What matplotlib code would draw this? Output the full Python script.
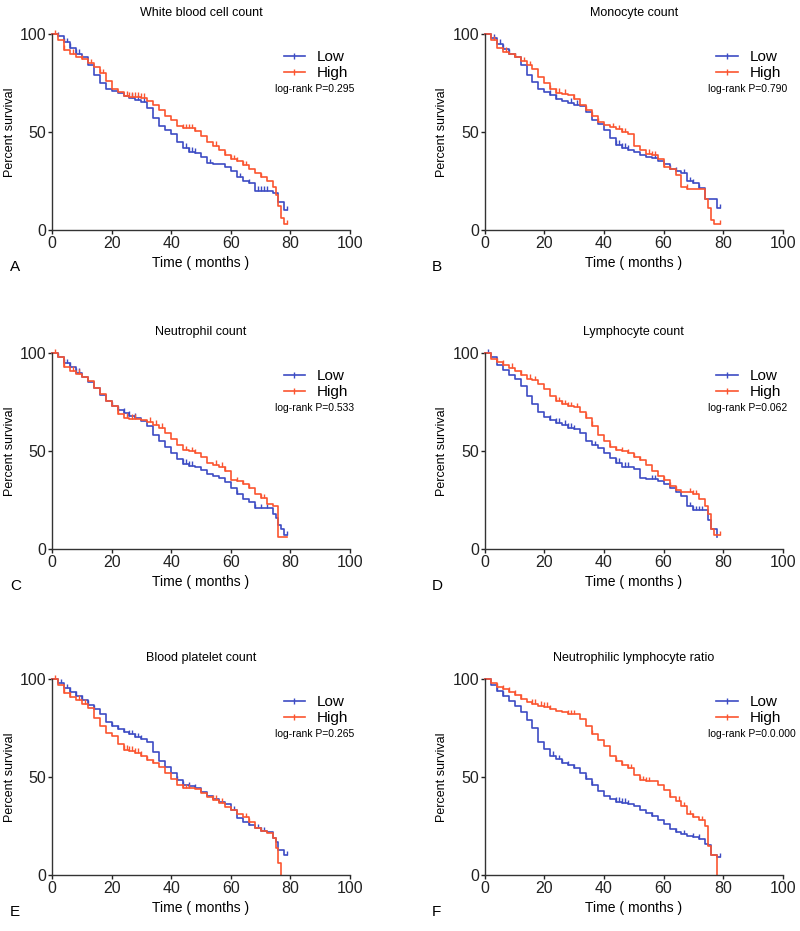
import numpy as np
import matplotlib
matplotlib.use("Agg")
import matplotlib.pyplot as plt
from matplotlib.lines import Line2D

plt.rcParams['font.family'] = ['Liberation Sans', 'DejaVu Sans']

# time grid (months) shared by all curves
months = [0, 2, 4, 6, 8, 10, 12, 14, 16, 18, 20, 22, 24, 26, 28, 30, 32, 34, 36, 38,
          40, 42, 44, 46, 48, 50, 52, 54, 56, 58, 60, 62, 64, 66, 68, 70, 72, 74,
          75, 76, 77, 78]

titles = ["White blood cell count", "Monocyte count", "Neutrophil count",
          "Lymphocyte count", "Blood platelet count", "Neutrophilic lymphocyte ratio"]
panel_letters = ["A", "B", "C", "D", "E", "F"]
pvalues = ["0.295", "0.790", "0.533", "0.062", "0.265", "0.0.000"]

# survival (%) for the Low group
low_a = [100, 99, 96, 93, 90, 88, 84, 79, 75, 72, 71, 70, 68.5, 67.5, 66.5, 65.5, 62, 57, 53, 51,
         49, 45, 42, 40, 39.5, 37, 34, 33.5, 33.5, 32, 30, 27, 25, 24, 20, 20, 20, 19, 19, 14.5, 14.5, 10]
low_b = [100, 98, 95, 92.5, 90, 88, 84, 79, 75.5, 72, 70.5, 69, 67, 66, 65, 64, 63, 60, 56, 54,
         51, 47, 43.5, 42, 41, 40, 38, 37, 36.5, 35, 33.5, 31, 30, 29, 25, 24, 21.5, 16, 16, 16, 16, 11]
low_c = [100, 98, 95, 93, 90, 88, 85, 82, 78.5, 75.5, 73, 71, 69.5, 68, 67, 65.5, 63, 58, 55, 52,
         49, 46, 43.5, 42.5, 42, 40.5, 38.5, 37, 36, 34, 31, 28, 25.5, 24, 21, 21, 21, 18, 16, 12, 10, 7]
low_d = [100, 98, 94, 91.5, 89, 86.5, 83, 78, 74, 70, 67.5, 66, 64.5, 63.5, 62, 61, 59, 55, 53, 51.5,
         49, 46.5, 44, 42, 42, 41, 36, 35.5, 35.5, 34.5, 33, 31, 29, 27, 22, 20, 20, 20, 15, 10, 10, 6]
low_e = [100, 98, 95.5, 93.5, 91.5, 89.5, 87, 84.5, 82, 78, 76, 74.5, 73, 72, 70.5, 69.5, 68, 63, 58, 55,
         52, 48.5, 46, 45.5, 44.5, 42.5, 40.5, 39, 37.5, 36, 33, 29, 27, 25.5, 24, 22.5, 22, 19, 17, 13, 13, 10]
low_f = [100, 97, 94, 91.5, 89, 86.5, 83, 79, 75, 68, 64.5, 61, 59, 57, 56, 54.5, 52, 49, 46, 43,
         40.5, 39, 37.5, 37, 36, 35, 33, 31.5, 30, 28, 26, 23.5, 22, 21, 20, 19.5, 18.5, 16, 15.5, 10, 10, 9]

# survival (%) for the High group
high_a = [100, 97, 92, 90, 88, 87, 85, 83, 80, 76, 72, 70.5, 68.5, 68, 68, 67.5, 66, 64, 61, 58,
          56, 53, 52, 52, 50.5, 48, 45, 43, 41, 38, 36, 35, 33, 31, 29, 27, 25, 22, 18, 12, 6, 3]
high_b = [100, 97, 93, 91, 90, 88, 86, 84, 82, 78, 75, 72, 70, 69.5, 69, 67, 64, 61, 58, 55,
          53.5, 52.5, 51.5, 50, 49, 43, 41, 39, 38, 36, 32, 31, 28, 22, 21, 21, 21, 16, 11, 5, 3, 3]
high_c = [100, 98, 93, 91, 89.5, 88, 85.5, 82, 79, 75.5, 73, 69, 67, 66.5, 66.5, 66, 65, 63.5, 62, 59,
          56, 53, 50.5, 50, 49, 47, 44, 43, 42, 40, 35, 34.5, 33, 31, 28, 26, 23, 22, 22, 6, 6, 6]
high_d = [100, 97, 95.5, 94, 92.5, 91, 89, 87, 86, 84, 81.5, 78, 75.5, 74, 73, 72.5, 70, 67, 63, 58,
          55, 52, 50.5, 50, 49, 47, 45.5, 43, 40, 37.5, 35, 32, 30, 29, 29, 28, 25.5, 22, 18, 10, 7, 7]
high_e = [100, 97, 93, 91, 89.5, 87.5, 85, 80, 76, 72.5, 71, 67, 64, 63.5, 62.5, 61, 58.5, 57, 55, 52,
          49, 46, 44.5, 44.5, 44, 42, 40, 38.5, 37, 34.5, 33, 31, 29.5, 27, 24, 22.5, 21.5, 19, 14, 6, 0, 0]
high_f = [100, 98, 96, 95, 93.5, 92, 90, 88.5, 87.5, 86.5, 86, 84.5, 83.5, 83, 82, 82, 79.5, 76, 72, 69,
          66, 61, 58, 56, 54.5, 51, 48.5, 48, 48, 46, 43.5, 40, 38, 35, 31, 29.5, 28, 25, 15, 10, 10, 0]

# last follow-up time of each curve
low_end = [79, 79, 79, 78, 79, 79]
high_end = [79, 79, 79, 79, 77, 78]

# censored observations (months)
low_cens = [
    [2, 4, 5, 6, 8, 9, 27, 29, 31, 45, 46, 47, 48, 53, 63, 66, 69, 70, 71, 72, 79],
    [3, 5, 6, 8, 10, 22, 24, 29, 31, 44, 45, 46, 47, 48, 57, 62, 64, 67, 69, 70, 72, 79],
    [2, 4, 5, 6, 8, 9, 20, 22, 24, 26, 28, 44, 45, 46, 47, 62, 68, 70, 72, 79],
    [1, 22, 24, 25, 27, 28, 29, 30, 37, 44, 45, 47, 48, 56, 57, 69, 70, 71, 72, 73],
    [3, 5, 6, 8, 10, 12, 14, 20, 22, 24, 26, 27, 28, 29, 30, 42, 44, 46, 48, 61, 66, 69, 70, 71, 79],
    [4, 6, 23, 25, 26, 28, 30, 34, 36, 44, 45, 46, 47, 48, 56, 64, 67, 70, 72, 79],
]
high_cens = [
    [1, 4, 7, 10, 13, 16, 17, 25, 26, 27, 28, 29, 30, 31, 44, 45, 46, 47, 48, 55, 58, 60, 61, 62, 64, 65, 70, 79],
    [3, 7, 10, 13, 15, 22, 24, 25, 27, 30, 34, 36, 38, 43, 45, 46, 47, 55, 56, 57, 60, 68, 79],
    [1, 4, 7, 9, 22, 25, 27, 28, 33, 35, 37, 45, 47, 48, 55, 57, 58, 62, 64, 66, 70, 71],
    [4, 6, 9, 12, 15, 17, 24, 25, 26, 27, 28, 29, 31, 34, 36, 42, 44, 46, 48, 50, 52, 60, 62, 64, 69, 70, 71, 79],
    [1, 4, 6, 9, 11, 24, 25, 26, 27, 28, 29, 30, 32, 34, 44, 45, 46, 54, 55, 57, 65, 66],
    [4, 6, 8, 10, 12, 16, 17, 19, 20, 21, 22, 28, 29, 30, 36, 44, 46, 48, 49, 52, 53, 54, 55, 62, 65, 67, 69, 70, 73],
]

lows = [low_a, low_b, low_c, low_d, low_e, low_f]
highs = [high_a, high_b, high_c, high_d, high_e, high_f]

blue = '#3d4cc4'
red = '#fb5530'

fig = plt.figure(figsize=(8, 9.31), dpi=100)

lefts = [0.065, 0.606]
bottoms = [0.753, 0.4103, 0.0601]
letter_x = [0.0125, 0.54]
w, h = 0.3725, 0.2105


def step_value(t, s, x):
    i = np.searchsorted(t, x, side='right') - 1
    return np.asarray(s)[i]


for k in range(6):
    row, col = divmod(k, 2)
    ax = fig.add_axes([lefts[col], bottoms[row], w, h])
    for surv, end, cens, color, lab in [(lows[k], low_end[k], low_cens[k], blue, 'Low'),
                                        (highs[k], high_end[k], high_cens[k], red, 'High')]:
        t = np.array(months + [end], dtype=float)
        s = np.array(surv + [surv[-1]], dtype=float)
        keep = t <= end
        ax.plot(t[keep], s[keep], drawstyle='steps-post', color=color, lw=1.2,
                clip_on=False, label=lab)
        c = np.array([x for x in cens if x <= end], dtype=float)
        cy = step_value(t, s, c)
        ax.vlines(c, cy, cy + 2.2, color=color, lw=1.0, clip_on=False)

    ax.set_xlim(0, 100)
    ax.set_ylim(0, 100)
    ax.set_xticks([0, 20, 40, 60, 80, 100])
    ax.set_yticks([0, 50, 100])
    ax.spines['top'].set_visible(False)
    ax.spines['right'].set_visible(False)
    for sp in ['left', 'bottom']:
        ax.spines[sp].set_color('#333333')
        ax.spines[sp].set_linewidth(1.0)
    ax.tick_params(direction='out', length=3, width=1, colors='#222222', labelsize=11.5, pad=1)
    ax.set_title(titles[k], fontsize=9, pad=13)
    ax.set_xlabel('Time ( months )', fontsize=10, labelpad=4)
    ax.set_ylabel('Percent survival', fontsize=9, labelpad=3)

    handles = [Line2D([], [], color=blue, lw=1.2, marker='|', markersize=4),
               Line2D([], [], color=red, lw=1.2, marker='|', markersize=4)]
    ax.legend(handles, ['Low', 'High'], loc='upper left', bbox_to_anchor=(0.757, 0.95),
              frameon=False, fontsize=11, handlelength=1.4, handletextpad=0.75,
              labelspacing=0.15, borderaxespad=0)
    ax.text(0.748, 0.72, 'log-rank P=' + pvalues[k], transform=ax.transAxes,
            fontsize=7.5, va='center', ha='left')

    fig.text(letter_x[col], bottoms[row] - 0.0395, panel_letters[k],
             fontsize=11, va='center', ha='left')

fig.savefig('out.png', dpi=100)
